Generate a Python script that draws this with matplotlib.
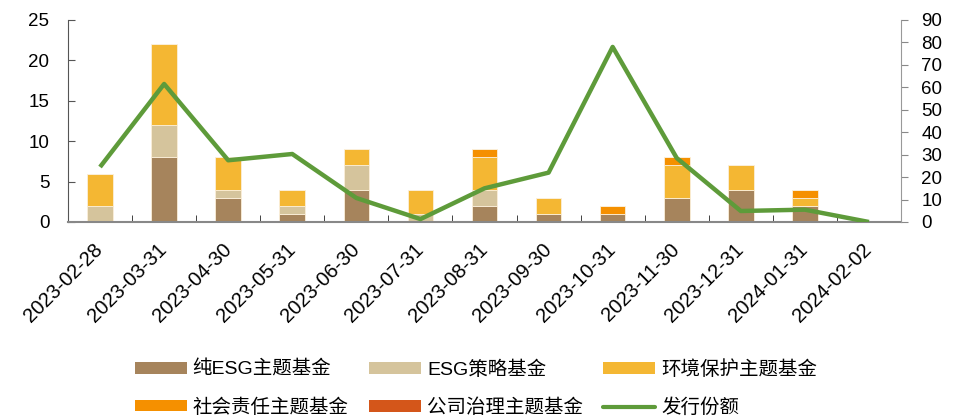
import numpy as np
import matplotlib
matplotlib.use('Agg')
import matplotlib.pyplot as plt
from matplotlib.patches import Patch
from matplotlib.lines import Line2D

plt.rcParams['font.family'] = ['Liberation Sans', 'Noto Sans CJK SC', 'DejaVu Sans']

# data
dates = ['2023-02-28', '2023-03-31', '2023-04-30', '2023-05-31', '2023-06-30',
         '2023-07-31', '2023-08-31', '2023-09-30', '2023-10-31', '2023-11-30',
         '2023-12-31', '2024-01-31', '2024-02-02']
pure_esg = [0, 8, 3, 1, 4, 0, 2, 1, 1, 3, 4, 2, 0]
esg_strategy = [2, 4, 1, 1, 3, 1, 2, 0, 0, 0, 0, 0, 0]
environment = [4, 10, 4, 2, 2, 3, 4, 2, 0, 4, 3, 1, 0]
social = [0, 0, 0, 0, 0, 0, 1, 0, 1, 1, 0, 1, 0]
governance = [0, 0, 0, 0, 0, 0, 0, 0, 0, 0, 0, 0, 0]
issue_amount = [24.5, 61.5, 27.5, 30.3, 10.7, 1.3, 15.0, 22.0, 78.0, 28.5, 4.9, 5.5, 0.0]

series = [
    ('纯ESG主题基金', pure_esg, '#A6845C'),
    ('ESG策略基金', esg_strategy, '#D5C49C'),
    ('环境保护主题基金', environment, '#F4B733'),
    ('社会责任主题基金', social, '#F59000'),
    ('公司治理主题基金', governance, '#D4561A'),
]
line_color = '#5E9B3A'

fig = plt.figure(figsize=(9.57, 4.16), dpi=100)
ax = fig.add_axes([68 / 957, 1 - 222 / 416, (901 - 68) / 957, (222 - 20) / 416])
ax2 = ax.twinx()

x = np.arange(len(dates))
bottom = np.zeros(len(dates))
handles = []
for name, vals, color in series:
    vals = np.array(vals, dtype=float)
    ax.bar(x, vals, width=0.4, bottom=bottom, color=color,
           edgecolor='#FBEFD9', linewidth=0.6, zorder=2)
    bottom += vals
    handles.append(Patch(facecolor=color, label=name))

ax2.plot(x, issue_amount, color=line_color, linewidth=3.2, solid_capstyle='butt')
handles.append(Line2D([0], [0], color=line_color, linewidth=3, label='发行份额',
                      solid_capstyle='round'))

ax.set_xlim(-0.5, len(dates) - 0.5)
ax.set_ylim(0, 25)
ax.set_yticks(range(0, 26, 5))
ax2.set_ylim(0, 90)
ax2.set_yticks(range(0, 91, 10))

ax.set_xticks(x)
ax.set_xticklabels(dates, rotation=45, ha='right', va='center', rotation_mode='anchor')
ax.set_xticks(np.arange(0.5, len(dates) - 1, 1.0), minor=True)
ax.tick_params(axis='x', which='major', length=0, pad=18, labelsize=14.5)
ax.tick_params(axis='x', which='minor', direction='in', length=5, color='#222222')
ax.tick_params(axis='y', direction='in', length=5, pad=13.5, labelsize=13.5, color='#555555')
ax2.tick_params(axis='y', direction='out', length=5, pad=9.5, labelsize=13.5, color='#888888')

for a in (ax, ax2):
    a.spines['top'].set_visible(False)
ax.spines['right'].set_visible(False)
ax2.spines['left'].set_visible(False)
ax2.spines['bottom'].set_visible(False)
ax.spines['left'].set_color('#555555')
ax.spines['bottom'].set_color('#888888')
ax.spines['bottom'].set_linewidth(1.5)
ax2.spines['right'].set_color('#999999')

# legend is filled column-wise, reorder so rows read left to right
order = [0, 3, 1, 4, 2, 5]
fig.legend([handles[i] for i in order], [handles[i].get_label() for i in order],
           loc='upper left', bbox_to_anchor=(135 / 957, 1 - 360 / 416), ncol=3, frameon=False,
           fontsize=14, handlelength=2.67, handleheight=0.52, handletextpad=0.3,
           columnspacing=1.05, labelspacing=1.0, borderpad=0, borderaxespad=0)

fig.savefig('out.png', dpi=100)
